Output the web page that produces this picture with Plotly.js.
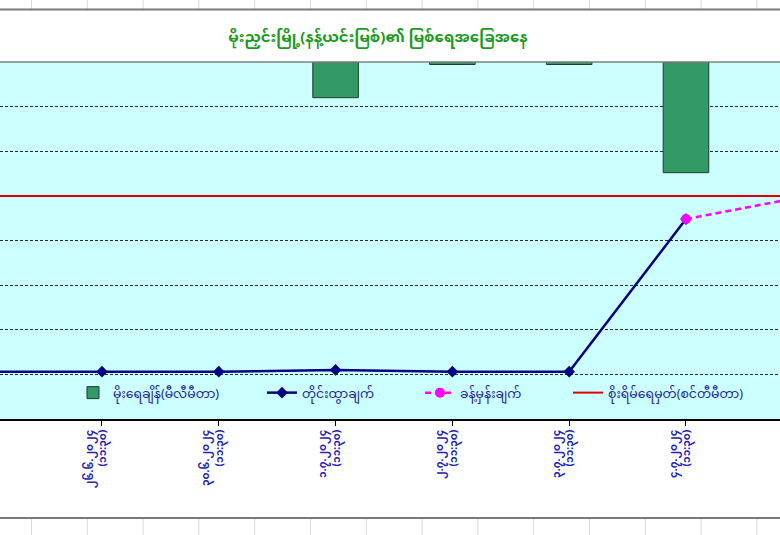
<!DOCTYPE html>
<html>
<head>
<meta charset="utf-8">
<script src="https://cdn.plot.ly/plotly-3.0.1.min.js"></script>
<style>
  html, body { margin: 0; padding: 0; background: #ffffff; }
  #chart { width: 780px; height: 535px; }
</style>
</head>
<body>
<div id="chart"></div>
<script>
// ---- data ----
const dates = ["၂၅.၆.၂၀၂၄", "၂၆.၆.၂၀၂၄", "၃၀.၆.၂၀၂၄", "၁.၇.၂၀၂၄", "၂.၇.၂၀၂၄", "၃.၇.၂၀၂၄", "၄.၇.၂၀၂၄", "၅.၇.၂၀၂၄"];
const times = ["(၁၁:၃၀)", "(၁၁:၃၀)", "(၁၁:၃၀)", "(၁၁:၃၀)", "(၁၁:၃၀)", "(၁၁:၃၀)", "(၁၁:၃၀)", "(၁၁:၃၀)"];
const rainfall = [null, null, null, 20, 1.4, 1.4, 62, null];      // mm (secondary, reversed)
const measured = [653, 653, 653, 655, 653, 653, 824, null];       // cm
const forecast = [null, null, null, null, null, null, 824, 849];  // cm
const danger = [850, 850, 850, 850, 850, 850, 850, 850];          // cm
const legendNames = ["မိုးရေချိန်(မီလီမီတာ)", "တိုင်းထွာချက်", "ခန့်မှန်းချက်", "စိုးရိမ်ရေမှတ်(စင်တီမီတာ)"];
const titleText = "မိုးညှင်းမြို့(နန့်ယင်းမြစ်)၏ မြစ်ရေအခြေအနေ";

const cats = dates.map((d, i) => d + "<br>" + times[i]);

const mmFont = "'Noto Sans Myanmar', 'Myanmar Text', Padauk, 'Noto Sans', 'DejaVu Sans', sans-serif";

// pixel helpers for decoration shapes (plot area: y 62..419)
const PT = 62, PB = 419, PH = PB - PT;
const py = p => (PB - p) / PH;

const traces = [
  {
    type: "bar", x: cats, y: rainfall, yaxis: "y2", name: legendNames[0], legend: "legend",
    width: 0.39, marker: { color: "#339966", line: { color: "#1d3d2b", width: 1 } }
  },
  {
    type: "scatter", mode: "lines", x: cats, y: danger, name: legendNames[3], legend: "legend4",
    line: { color: "#e00000", width: 2 }
  },
  {
    type: "scatter", mode: "lines+markers", x: cats, y: measured, name: legendNames[1], legend: "legend2",
    line: { color: "#000080", width: 2.5 },
    marker: { symbol: "diamond", size: 9, color: "#000080" }
  },
  {
    type: "scatter", mode: "lines+markers", x: cats, y: forecast, name: legendNames[2], legend: "legend3",
    line: { color: "#ff00ff", width: 2.5, dash: "6px,4px" },
    marker: { symbol: "circle", size: 10, color: "#ff00ff" }
  }
];

// spreadsheet column lines outside chart border
const shapes = [];
for (let x = 31.5; x < 780; x += 55.8) {
  shapes.push({ type: "line", xref: "paper", yref: "paper", x0: x / 780, x1: x / 780, y0: py(0), y1: py(9),
    line: { color: "#d9d9d9", width: 1 }, layer: "below" });
  shapes.push({ type: "line", xref: "paper", yref: "paper", x0: x / 780, x1: x / 780, y0: py(519), y1: py(535),
    line: { color: "#d9d9d9", width: 1 }, layer: "below" });
}
// chart border lines
shapes.push({ type: "line", xref: "paper", yref: "paper", x0: -0.01, x1: 1.01, y0: py(9.5), y1: py(9.5),
  line: { color: "#7a7a7a", width: 2 } });
shapes.push({ type: "line", xref: "paper", yref: "paper", x0: -0.01, x1: 1.01, y0: py(518), y1: py(518),
  line: { color: "#7a7a7a", width: 2 } });
// plot area top border
shapes.push({ type: "line", xref: "paper", yref: "paper", x0: 0, x1: 1, y0: 1, y1: 1,
  line: { color: "#808080", width: 1.5 } });

const legendBase = px => ({
  orientation: "h",
  x: px / 780, xanchor: "left",
  y: py(393), yanchor: "middle",
  bgcolor: "rgba(0,0,0,0)",
  font: { family: mmFont, size: 12.5, color: "#1f1f8f" },
  itemwidth: 30
});

const layout = {
  width: 780, height: 535,
  margin: { l: 0, r: 0, t: PT, b: 535 - PB, pad: 0 },
  paper_bgcolor: "#ffffff",
  plot_bgcolor: "#ccffff",
  showlegend: true,
  title: {
    text: titleText,
    font: { family: mmFont, size: 15, color: "#1a9a1a", weight: "bold" },
    x: 378 / 780, xanchor: "center", xref: "paper",
    y: 1 - 37 / 535, yanchor: "middle", yref: "container"
  },
  xaxis: {
    type: "category",
    range: [0.127, 6.805],
    showgrid: false, zeroline: false,
    showline: true, linecolor: "#000000", linewidth: 1.5,
    ticks: "outside", ticklen: 5, tickcolor: "#000000",
    tickangle: -90,
    ticklabelshift: -6,
    tickfont: { family: mmFont, size: 10.5, color: "#2323b5", weight: "bold" },
    fixedrange: true
  },
  yaxis: {
    range: [600, 1000], dtick: 50,
    showticklabels: false, ticks: "",
    showgrid: true, gridcolor: "#2a2a2a", gridwidth: 1, griddash: "3px,2px",
    zeroline: false, showline: false
  },
  yaxis2: {
    overlaying: "y", side: "right", range: [200, 0],
    showticklabels: false, ticks: "", showgrid: false, zeroline: false, showline: false
  },
  legend: legendBase(73),
  legend2: legendBase(262),
  legend3: legendBase(420),
  legend4: legendBase(568),
  shapes: shapes,
  barmode: "overlay"
};

Plotly.newPlot("chart", traces, layout, { displayModeBar: false, staticPlot: true });
</script>
</body>
</html>
